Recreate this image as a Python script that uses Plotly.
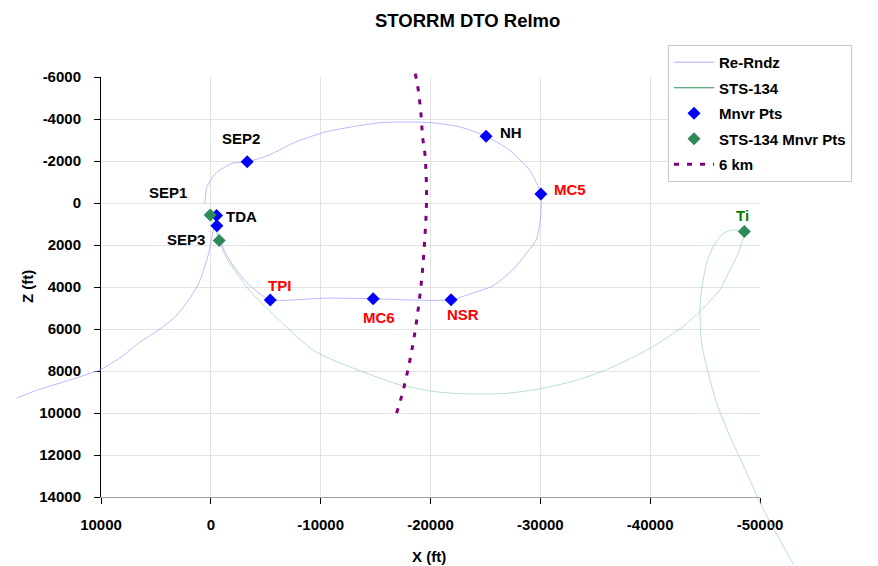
import plotly.graph_objects as go

# ---------------- data (ft) ----------------
RR_X = [550, 340, -430, -1940, -3310, -5290, -7730, -10470, -12890, -15330, -17760, -20190,
        -22630, -25060, -27190, -29010, -30050, -29990, -29630, -28830, -27490, -25670, -23840,
        -21870, -18980, -14780, -10470, -8030, -5410, -4380, -3170, -2100, -1340, -730, -575,
        -450, -150, 250, 1095, 2007, 3221, 4744, 6569, 8093, 10064, 13257, 15693, 17673]
RR_Y = [0, -780, -1410, -1890, -1960, -2280, -2910, -3390, -3630, -3820, -3860, -3820,
        -3630, -3180, -2520, -1570, -430, 810, 1760, 2330, 3180, 3950, 4290,
        4610, 4630, 4560, 4530, 4600, 4620, 4290, 3740, 3030, 2390, 1600, 1130,
        850, 1500, 2500, 3817, 4610, 5404, 6036, 6669, 7303, 7938, 8494, 8888, 9283]

ST_X = [60, -760, -1340, -3470, -6505, -9243, -11040, -14115, -17153, -20191, -22628, -26579,
        -29927, -33275, -36012, -39932, -43002, -44525, -46350, -46961, -47873, -48330, -48570,
        -47564, -46652, -45739, -45137, -44680, -44525, -44680, -45282, -46048, -47261, -48785,
        -50300, -53037]
ST_Y = [570, 1790, 2552, 4135, 5718, 6987, 7460, 8095, 8650, 8969, 9078, 9078,
        8855, 8446, 7938, 6939, 5879, 5167, 4135, 3503, 2552, 1916, 1360,
        1283, 1440, 2077, 2866, 4135, 5086, 6669, 8095, 9520, 11108, 12847,
        14592, 17206]

KM_X = [-18610, -18820, -19130, -19280, -19500, -19640, -19590, -19430, -19220, -18910,
        -18520, -18070, -17450, -16700]
KM_Y = [-6160, -5610, -4260, -3150, -2280, -460, 650, 2080, 3500, 4930,
        6360, 7620, 9050, 10360]

MNVR_X = [-3310, -520, -550, -5410, -14780, -21870, -25060, -30050]
MNVR_Y = [-1960, 600, 1080, 4620, 4560, 4610, -3180, -430]
MNVR_LABELS = ["SEP2", "TDA", "", "TPI", "MC6", "NSR", "NH", "MC5"]

STS_PTS_X = [60, -760, -48570]
STS_PTS_Y = [570, 1790, 1360]
STS_PTS_LABELS = ["", "SEP3", "Ti"]

X_RANGE = [10000, -50000]
Y_RANGE = [14000, -6000]
X_TICKS = [10000, 0, -10000, -20000, -30000, -40000, -50000]
Y_TICKS = [-6000, -4000, -2000, 0, 2000, 4000, 6000, 8000, 10000, 12000, 14000]

# ---------------- layout geometry ----------------
W, H = 878, 566
PX_L, PX_R, PX_T, PX_B = 101, 760, 77, 497
FONT = "Arial, Liberation Sans, sans-serif"

# full-figure helper axes with the same scale (so lines may run past the frame)
sx = (X_RANGE[1] - X_RANGE[0]) / (PX_R - PX_L)
x2_range = [X_RANGE[0] - PX_L * sx, X_RANGE[0] + (W - PX_L) * sx]
sy = (Y_RANGE[0] - Y_RANGE[1]) / (PX_B - PX_T)  # value per px downward
y_at = lambda py: Y_RANGE[1] + (py - PX_T) * sy
y2_range = [y_at(H), y_at(0)]

fig = go.Figure()

DASH = "5px,8px"
# legend-only entries (on main axes)
fig.add_trace(go.Scatter(x=[None], y=[None], mode="lines", name="Re-Rndz",
                         line=dict(color="#c8c8ff", width=1.5), legendgroup="a"))
fig.add_trace(go.Scatter(x=[None], y=[None], mode="lines", name="STS-134",
                         line=dict(color="#2e8b57", width=1), legendgroup="b"))

# curves on full-figure axes
fig.add_trace(go.Scatter(x=RR_X, y=RR_Y, mode="lines", showlegend=False,
                         line=dict(color="#a8a8ff", width=0.8, shape="spline", smoothing=0.6),
                         xaxis="x2", yaxis="y2", hoverinfo="skip"))
fig.add_trace(go.Scatter(x=ST_X, y=ST_Y, mode="lines", showlegend=False,
                         line=dict(color="#a6d6c2", width=0.8, shape="spline", smoothing=0.6),
                         xaxis="x2", yaxis="y2", hoverinfo="skip"))
fig.add_trace(go.Scatter(x=KM_X, y=KM_Y, mode="lines", showlegend=False,
                         line=dict(color="#800080", width=3, dash=DASH, shape="spline"),
                         xaxis="x2", yaxis="y2", hoverinfo="skip"))

fig.add_trace(go.Scatter(x=MNVR_X, y=MNVR_Y, mode="markers", name="Mnvr Pts",
                         marker=dict(symbol="diamond", size=10, color="#0000ff"),
                         xaxis="x2", yaxis="y2", cliponaxis=False, legendgroup="c"))
fig.add_trace(go.Scatter(x=STS_PTS_X, y=STS_PTS_Y, mode="markers", name="STS-134 Mnvr Pts",
                         marker=dict(symbol="diamond", size=10, color="#2e8b57"),
                         xaxis="x2", yaxis="y2", cliponaxis=False, legendgroup="d"))
fig.add_trace(go.Scatter(x=[None], y=[None], mode="lines", name="6 km",
                         line=dict(color="#800080", width=3, dash=DASH), legendgroup="e"))

# ---------------- labels ----------------
RED, BLACK, GREEN = "#ff0000", "#000000", "#008000"
label_style = {
    "SEP2": dict(color=BLACK, xanchor="center", xshift=-6, yshift=23),
    "TDA": dict(color=BLACK, xanchor="left", xshift=7, yshift=-1),
    "TPI": dict(color=RED, xanchor="center", xshift=9, yshift=15),
    "MC6": dict(color=RED, xanchor="center", xshift=6, yshift=-19),
    "NSR": dict(color=RED, xanchor="center", xshift=12, yshift=-15),
    "NH": dict(color=BLACK, xanchor="left", xshift=12, yshift=4),
    "MC5": dict(color=RED, xanchor="left", xshift=11, yshift=4),
    "SEP3": dict(color=BLACK, xanchor="right", xshift=-12, yshift=1),
    "Ti": dict(color=GREEN, xanchor="center", xshift=-2, yshift=16),
}
anns = []
for xs, ys, labs in [(MNVR_X, MNVR_Y, MNVR_LABELS), (STS_PTS_X, STS_PTS_Y, STS_PTS_LABELS)]:
    for x, y, t in zip(xs, ys, labs):
        if not t:
            continue
        st = label_style[t]
        anns.append(dict(x=x, y=y, xref="x", yref="y", text=t, showarrow=False,
                         xanchor=st["xanchor"], yanchor="middle",
                         xshift=st["xshift"], yshift=st["yshift"],
                         font=dict(family=FONT, size=15, color=st["color"], weight="bold")))
# SEP1 label at the start of the Re-Rndz trajectory
anns.append(dict(x=RR_X[0], y=RR_Y[0], xref="x", yref="y", text="SEP1", showarrow=False,
                 xanchor="right", yanchor="middle", xshift=-16, yshift=11,
                 font=dict(family=FONT, size=15, color=BLACK, weight="bold")))
# axis titles
anns.append(dict(x=429 / W, y=1 - 556 / H, xref="paper", yref="paper",
                 text="X (ft)", showarrow=False, xanchor="center", yanchor="middle",
                 font=dict(family=FONT, size=15, color=BLACK, weight="bold")))
anns.append(dict(x=27 / W, y=1 - 287 / H, xref="paper", yref="paper", text="Z (ft)",
                 showarrow=False, textangle=-90, xanchor="center", yanchor="middle",
                 font=dict(family=FONT, size=15, color=BLACK, weight="bold")))
# title
anns.append(dict(x=467 / W, y=1 - 20 / H, xref="paper", yref="paper",
                 text="STORRM DTO Relmo", showarrow=False, xanchor="center", yanchor="middle",
                 font=dict(family=FONT, size=18.5, color=BLACK, weight="bold")))

tickfont = dict(family=FONT, size=15, color=BLACK, weight="bold")
fig.update_layout(
    width=W, height=H,
    margin=dict(l=0, r=0, t=0, b=0, pad=0, autoexpand=False),
    paper_bgcolor="white", plot_bgcolor="rgba(0,0,0,0)",
    showlegend=True,
    xaxis=dict(domain=[PX_L / W, PX_R / W], range=X_RANGE,
               tickvals=X_TICKS, ticktext=[str(v) for v in X_TICKS],
               showgrid=True, gridcolor="#e2e2e2", gridwidth=1, zeroline=False,
               showline=True, linecolor="#a0a0a0", linewidth=1,
               ticks="outside", ticklen=6, tickcolor="#000000", tickfont=tickfont,
               ticklabelstandoff=8, anchor="y", fixedrange=True, automargin=False),
    yaxis=dict(domain=[1 - PX_B / H, 1 - PX_T / H], range=Y_RANGE,
               tickvals=Y_TICKS, ticktext=[str(v) for v in Y_TICKS],
               showgrid=True, gridcolor="#e2e2e2", gridwidth=1, zeroline=False,
               showline=True, linecolor="#000000", linewidth=1,
               ticks="outside", ticklen=6, tickcolor="#000000", tickfont=tickfont,
               ticklabelstandoff=10, anchor="x", fixedrange=True, automargin=False),
    xaxis2=dict(domain=[0, 1], range=x2_range, visible=False, anchor="y2", fixedrange=True),
    yaxis2=dict(domain=[0, 1], range=y2_range, visible=False, anchor="x2", fixedrange=True),
    legend=dict(x=668 / W, y=1 - 45 / H, xanchor="left", yanchor="top",
                bgcolor="white", bordercolor="#c8c8c8", borderwidth=1,
                font=dict(family=FONT, size=15, color=BLACK, weight="bold"),
                traceorder="grouped", tracegroupgap=3, itemwidth=40,
                entrywidth=150, entrywidthmode="pixels"),
    annotations=anns,
)

fig.write_html("out.html", config={"displayModeBar": False, "staticPlot": True},
               post_script="document.body.style.margin='0px';document.body.style.overflow='hidden';")
